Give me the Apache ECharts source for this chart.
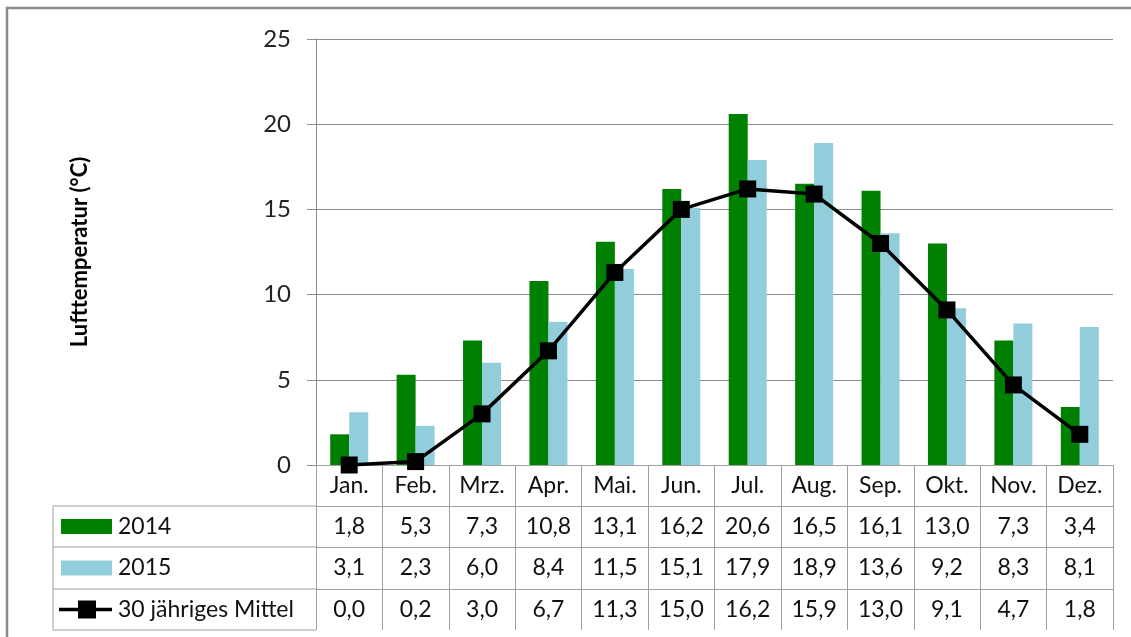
<!doctype html>
<html>
<head>
<meta charset="utf-8">
<title>Lufttemperatur</title>
<script src="https://cdn.jsdelivr.net/npm/echarts@6/dist/echarts.min.js"></script>
<style>
  html, body { margin: 0; padding: 0; background: #fff; }
  #main { width: 1131px; height: 637px; }
</style>
</head>
<body>
<div id="main"></div>
<script>
  // data
  var months = ['Jan.', 'Feb.', 'Mrz.', 'Apr.', 'Mai.', 'Jun.', 'Jul.', 'Aug.', 'Sep.', 'Okt.', 'Nov.', 'Dez.'];
  var t2014 = [1.8, 5.3, 7.3, 10.8, 13.1, 16.2, 20.6, 16.5, 16.1, 13.0, 7.3, 3.4];
  var t2015 = [3.1, 2.3, 6.0, 8.4, 11.5, 15.1, 17.9, 18.9, 13.6, 9.2, 8.3, 8.1];
  var mittel = [0.0, 0.2, 3.0, 6.7, 11.3, 15.0, 16.2, 15.9, 13.0, 9.1, 4.7, 1.8];
  var seriesNames = ['2014', '2015', '30 jähriges Mittel'];

  var FONT = 'Lato';
  var TABLE_FS = 23;
  var GREEN = '#008000';
  var BLUE = '#92cddc';
  var TABLE_LINE = '#a0a0a0';
  var GRID_LINE = '#8c8c8c';

  // layout
  var plotLeft = 316, plotRight = 1113, plotTop = 39, axisY = 465;
  var tableLeft = 53;
  var rowLines = [506, 547, 589, 630];

  function fmt(v) { return v.toFixed(1).replace('.', ','); }

  function tableAxis(values, offset, tickLen) {
    return {
      type: 'category',
      data: months,
      position: 'bottom',
      offset: offset,
      axisLine: { show: true, lineStyle: { color: TABLE_LINE, width: 1 } },
      axisTick: { show: true, interval: 0, length: tickLen, lineStyle: { color: TABLE_LINE } },
      axisLabel: {
        interval: 0, margin: tickLen / 2, verticalAlign: 'middle',
        fontFamily: FONT, fontSize: TABLE_FS, color: '#111',
        formatter: values ? function (v, i) { return fmt(values[i]); } : null
      },
      splitLine: { show: false }
    };
  }

  var chart = echarts.init(document.getElementById('main'));

  var graphics = [
    { type: 'rect', shape: { x: 7, y: 8, width: 1150, height: 700 },
      style: { fill: 'none', stroke: '#8a8a8a', lineWidth: 2.5 }, silent: true },
    { type: 'line', shape: { x1: tableLeft, y1: rowLines[0], x2: tableLeft, y2: rowLines[3] },
      style: { stroke: TABLE_LINE, lineWidth: 1 } }
  ];
  rowLines.forEach(function (y) {
    graphics.push({ type: 'line', shape: { x1: tableLeft, y1: y, x2: plotLeft, y2: y },
      style: { stroke: TABLE_LINE, lineWidth: 1 } });
  });
  var mids = [526.5, 568, 609.5];
  graphics.push({ type: 'rect', shape: { x: 61, y: mids[0] - 7.5, width: 51, height: 15 }, style: { fill: GREEN } });
  graphics.push({ type: 'rect', shape: { x: 61, y: mids[1] - 7.5, width: 51, height: 15 }, style: { fill: BLUE } });
  graphics.push({ type: 'line', shape: { x1: 59, y1: mids[2], x2: 112, y2: mids[2] }, style: { stroke: '#000', lineWidth: 3.5 } });
  graphics.push({ type: 'rect', shape: { x: 78, y: mids[2] - 9, width: 18, height: 18 }, style: { fill: '#000' } });
  seriesNames.forEach(function (n, i) {
    graphics.push({ type: 'text', x: 118, y: mids[i],
      style: { text: n, fontFamily: FONT, fontSize: TABLE_FS, fill: '#111', verticalAlign: 'middle', align: 'left' } });
  });

  chart.setOption({
    animation: false,
    backgroundColor: '#fff',
    grid: { left: plotLeft, right: 1131 - plotRight, top: plotTop, bottom: 637 - axisY },
    xAxis: [
      tableAxis(null, 0, 41),
      tableAxis(t2014, 41, 41),
      tableAxis(t2015, 82, 42),
      tableAxis(mittel, 124, 41)
    ],
    yAxis: {
      type: 'value', min: 0, max: 25, interval: 5,
      name: 'Lufttemperatur (°C)', nameLocation: 'middle', nameGap: 225,
      nameTextStyle: { fontFamily: FONT, fontSize: 22, fontWeight: 'bold', color: '#000' },
      axisLine: { show: true, lineStyle: { color: GRID_LINE } },
      axisTick: { show: true, length: 9, lineStyle: { color: GRID_LINE } },
      axisLabel: { fontFamily: FONT, fontSize: 24, color: '#222', margin: 25 },
      splitLine: { lineStyle: { color: GRID_LINE, width: 1 } }
    },
    series: [
      { name: seriesNames[0], type: 'bar', data: t2014, barWidth: 19, barGap: '0%',
        itemStyle: { color: GREEN } },
      { name: seriesNames[1], type: 'bar', data: t2015, barWidth: 19, barGap: '0%',
        itemStyle: { color: BLUE } },
      { name: seriesNames[2], type: 'line', data: mittel, symbol: 'rect', symbolSize: 17,
        lineStyle: { color: '#000', width: 3.5 }, itemStyle: { color: '#000' }, z: 5 }
    ],
    graphic: graphics
  });
</script>
</body>
</html>
